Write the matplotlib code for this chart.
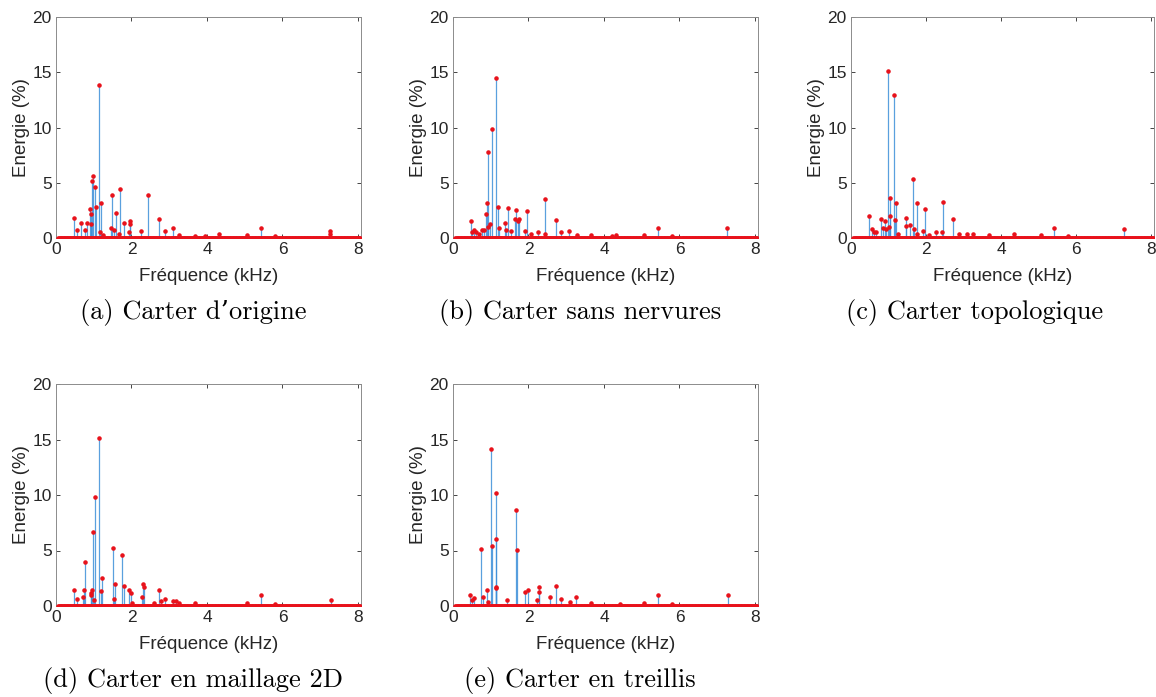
import numpy as np
import matplotlib
matplotlib.use("Agg")
import matplotlib.pyplot as plt

# Fréquences des pics (kHz) et énergies (%)
f_origine = [0.49, 0.56, 0.66, 0.77, 0.83, 0.90, 0.93, 0.93, 0.95, 0.99, 1.03, 1.05, 1.14, 1.17, 1.20,
             1.25, 1.47, 1.49, 1.54, 1.60, 1.66, 1.69, 1.80, 1.93, 1.95, 1.97, 2.26, 2.44, 2.74, 2.88,
             3.10, 3.26, 3.68, 3.96, 4.33, 5.06, 5.43, 5.79, 7.27, 7.27]
e_origine = [1.8, 0.7, 1.35, 0.7, 1.35, 2.65, 2.2, 1.3, 5.15, 5.6, 4.6, 2.8, 13.85, 0.55, 3.2,
             0.25, 0.9, 3.9, 0.7, 2.3, 0.4, 4.45, 1.4, 0.55, 1.5, 1.25, 0.6, 3.85, 1.75, 0.6,
             0.9, 0.25, 0.2, 0.2, 0.35, 0.3, 0.95, 0.2, 0.6, 0.4]

f_sans_nerv = [0.47, 0.51, 0.56, 0.62, 0.69, 0.77, 0.82, 0.87, 0.89, 0.92, 0.94, 0.98, 1.02, 1.13, 1.19,
               1.21, 1.39, 1.41, 1.46, 1.53, 1.64, 1.68, 1.73, 1.75, 1.91, 1.96, 2.06, 2.25, 2.43, 2.45,
               2.72, 2.87, 3.08, 3.28, 3.66, 4.21, 4.32, 5.07, 5.42, 5.79, 7.27]
e_sans_nerv = [1.55, 0.5, 0.7, 0.5, 0.4, 0.75, 0.75, 2.15, 3.15, 1.0, 7.75, 1.25, 9.9, 14.5, 2.8,
               0.9, 1.4, 0.7, 2.7, 0.6, 1.7, 2.5, 1.5, 1.7, 0.6, 2.4, 0.4, 0.55, 3.55, 0.4,
               1.6, 0.55, 0.6, 0.3, 0.25, 0.2, 0.3, 0.3, 0.95, 0.15, 0.95]

f_topo = [0.49, 0.56, 0.62, 0.67, 0.81, 0.85, 0.91, 0.94, 0.98, 1.01, 1.03, 1.05, 1.15, 1.16, 1.21,
          1.25, 1.47, 1.47, 1.58, 1.65, 1.68, 1.77, 1.77, 1.92, 1.97, 2.07, 2.26, 2.44, 2.42, 2.73,
          2.89, 3.09, 3.26, 3.67, 4.34, 5.07, 5.42, 5.78, 7.29]
e_topo = [2.0, 0.85, 0.55, 0.55, 1.75, 0.95, 1.5, 0.8, 15.1, 1.0, 3.6, 1.95, 12.9, 1.6, 3.15,
          0.4, 1.8, 1.1, 1.2, 5.35, 0.8, 3.15, 0.4, 0.65, 2.65, 0.3, 0.55, 3.3, 0.5, 1.7,
          0.4, 0.4, 0.4, 0.27, 0.33, 0.27, 0.95, 0.15, 0.8]

f_maillage = [0.49, 0.56, 0.71, 0.75, 0.77, 0.92, 0.93, 0.96, 0.99, 1.01, 1.03, 1.15, 1.18, 1.21, 1.52,
              1.55, 1.53, 1.75, 1.80, 1.93, 1.99, 2.01, 2.28, 2.30, 2.34, 2.59, 2.74, 2.78, 2.88, 3.09,
              3.19, 3.26, 3.68, 5.06, 5.43, 5.80, 7.28]
e_maillage = [1.45, 0.65, 0.85, 1.4, 4.0, 1.0, 1.15, 1.4, 6.7, 0.5, 9.8, 15.1, 1.35, 2.5, 5.2,
              1.95, 0.6, 4.6, 1.8, 1.45, 1.15, 0.3, 0.8, 2.0, 1.75, 0.3, 1.4, 0.45, 0.6, 0.45,
              0.45, 0.3, 0.3, 0.3, 1.0, 0.15, 0.5]

f_treillis = [0.46, 0.50, 0.55, 0.73, 0.79, 0.90, 0.93, 1.00, 1.02, 1.13, 1.15, 1.14, 1.14, 1.43, 1.68,
              1.69, 1.91, 1.98, 2.23, 2.27, 2.27, 2.56, 2.72, 2.87, 3.10, 3.26, 3.66, 4.43, 5.07, 5.42,
              5.79, 7.28]
e_treillis = [1.0, 0.5, 0.75, 5.15, 0.85, 1.4, 0.4, 14.15, 5.4, 6.0, 10.2, 1.75, 1.6, 0.55, 8.65,
              5.05, 1.3, 1.45, 0.55, 1.75, 1.25, 0.8, 1.8, 0.6, 0.4, 0.85, 0.3, 0.2, 0.25, 1.0,
              0.15, 1.0]

# bins FFT à énergie quasi nulle
f_bins = np.arange(0.06, 8.08, 0.02)

donnees = [
    (f_origine, e_origine, "(a) Carter d’origine"),
    (f_sans_nerv, e_sans_nerv, "(b) Carter sans nervures"),
    (f_topo, e_topo, "(c) Carter topologique"),
    (f_maillage, e_maillage, "(d) Carter en maillage 2D"),
    (f_treillis, e_treillis, "(e) Carter en treillis"),
]

W, H = 1156, 697
fig = plt.figure(figsize=(W / 100, H / 100), dpi=100)
plt.rcParams["font.family"] = ["Liberation Sans", "DejaVu Sans"]

# positions en pixels : gauche, droite, haut, bas
cadres = [(56, 361, 17, 238), (453, 758, 17, 238), (851, 1154, 17, 238),
          (56, 361, 384, 606), (453, 758, 384, 606)]
centres = [(193, 312), (580, 312), (975, 312), (193, 680), (580, 680)]

for (f, e, titre), (g, d, h, b), (cx, cy) in zip(donnees, cadres, centres):
    ax = fig.add_axes([g / W, 1 - b / H, (d - g) / W, (b - h) / H])
    ax.vlines(f, 0, e, color="#3d8fd9", lw=0.9, alpha=0.85, zorder=2)
    ax.plot(f_bins, np.zeros_like(f_bins), ".", color="#e8121b", ms=4.5, zorder=3)
    ax.plot(f, e, ".", color="#e8121b", ms=4.5, zorder=4)
    ax.set_xlim(0, 8.08)
    ax.set_ylim(0, 20)
    ax.set_xticks([0, 2, 4, 6, 8])
    ax.set_yticks([0, 5, 10, 15, 20])
    ax.tick_params(direction="in", top=True, right=True, labelsize=12.5,
                   colors="#262626", length=3, width=0.6, pad=3)
    for s in ax.spines.values():
        s.set_color("#8c8c8c")
        s.set_linewidth(0.7)
    ax.set_xlabel("Fréquence (kHz)", fontsize=13.5, color="#262626", labelpad=8)
    ax.set_ylabel("Energie (%)", fontsize=13.5, color="#262626", labelpad=2)
    fig.text(cx / W, 1 - cy / H, titre, ha="center", va="center",
             fontsize=19, family=["cmr10", "DejaVu Serif"])

plt.savefig("out.png", dpi=100)
plt.close()
